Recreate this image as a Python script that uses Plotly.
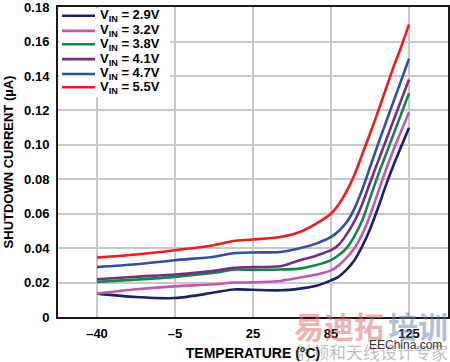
import plotly.graph_objects as go

# Temperature categories (equally spaced on the chart)
temp_labels = ["–40", "–5", "25", "85", "125"]
temp_pos = [0, 1, 2, 3, 4]

# sample positions along the category axis (fractional = between categories)
x_samples = [0, 0.5, 1, 1.5, 1.75, 2, 2.35, 2.6, 2.8, 3, 3.1, 3.2, 3.3, 3.4, 3.5, 3.6, 3.7, 3.8, 3.9, 4]

series_names = ["V<sub>IN</sub> = 2.9V", "V<sub>IN</sub> = 3.2V", "V<sub>IN</sub> = 3.8V",
                "V<sub>IN</sub> = 4.1V", "V<sub>IN</sub> = 4.7V", "V<sub>IN</sub> = 5.5V"]

vin_2_9 = [0.0136, 0.0116, 0.0110, 0.0142, 0.0160, 0.0158, 0.0155, 0.0165, 0.0180, 0.0213,
           0.0235, 0.0275, 0.0330, 0.0410, 0.0510, 0.0630, 0.0760, 0.0880, 0.0990, 0.110]
vin_3_2 = [0.0136, 0.0161, 0.0178, 0.0190, 0.0200, 0.0201, 0.0209, 0.0229, 0.0245, 0.0271,
           0.0300, 0.0345, 0.0400, 0.0480, 0.0590, 0.0720, 0.0850, 0.0970, 0.1080, 0.119]
vin_3_8 = [0.0204, 0.0217, 0.0233, 0.0257, 0.0275, 0.0274, 0.0276, 0.0281, 0.0300, 0.0330,
           0.0360, 0.0400, 0.0470, 0.0560, 0.0690, 0.0820, 0.0940, 0.1060, 0.1180, 0.130]
vin_4_1 = [0.0219, 0.0234, 0.0247, 0.0268, 0.0286, 0.0290, 0.0295, 0.0330, 0.0355, 0.0388,
           0.0420, 0.0480, 0.0555, 0.0655, 0.0780, 0.0900, 0.1020, 0.1140, 0.1260, 0.138]
vin_4_7 = [0.0290, 0.0306, 0.0330, 0.0350, 0.0370, 0.0375, 0.0378, 0.0400, 0.0425, 0.0465,
           0.0500, 0.0550, 0.0630, 0.0740, 0.0870, 0.1000, 0.1125, 0.1250, 0.1375, 0.150]
vin_5_5 = [0.0345, 0.0363, 0.0388, 0.0417, 0.0442, 0.0450, 0.0465, 0.0494, 0.0540, 0.0600,
           0.0655, 0.0730, 0.0825, 0.0945, 0.1065, 0.1190, 0.1320, 0.1450, 0.1570, 0.170]

series_values = [vin_2_9, vin_3_2, vin_3_8, vin_4_1, vin_4_7, vin_5_5]
colors = ["#1c1f6e", "#c656ad", "#0c8a44", "#772a8c", "#2f4ea6", "#f2191d"]

y_ticks = [0, 0.02, 0.04, 0.06, 0.08, 0.10, 0.12, 0.14, 0.16, 0.18]
y_ticktext = ["0", "0.02", "0.04", "0.06", "0.08", "0.10", "0.12", "0.14", "0.16", "0.18"]

font_family = "Liberation Sans, Arial, sans-serif"

fig = go.Figure()
for name, vals, col in zip(series_names, series_values, colors):
    fig.add_trace(go.Scatter(x=x_samples, y=vals, name=name, mode="lines",
                             line=dict(color=col, width=2.6, shape="spline", smoothing=0.8)))

fig.update_layout(
    width=450, height=362,
    margin=dict(l=58, r=2, t=7, b=45, autoexpand=False),
    paper_bgcolor="white", plot_bgcolor="white",
    font=dict(family=font_family, color="black", size=13, weight="bold"),
    showlegend=False,
    xaxis=dict(range=[-0.5, 4.5], tickvals=temp_pos, ticktext=temp_labels,
               showgrid=True, gridcolor="#c8c8c8", gridwidth=1.5,
               showline=True, linecolor="#1a1a1a", linewidth=2, mirror=True,
               ticks="", zeroline=False, automargin=False, ticklabelstandoff=3,
               ticklabeloverflow="allow",
               tickfont=dict(size=13, weight="bold"),
               title=dict(text="TEMPERATURE (°C)", font=dict(size=14, weight="bold"), standoff=9)),
    yaxis=dict(range=[0, 0.1801], tickvals=y_ticks, ticktext=y_ticktext,
               showgrid=True, gridcolor="#c8c8c8", gridwidth=1.5,
               showline=True, linecolor="#1a1a1a", linewidth=2, mirror=True,
               ticks="", zeroline=False, automargin=False, ticklabelstandoff=4,
               ticklabeloverflow="allow",
               tickfont=dict(size=13, weight="bold"),
               title=dict(text="SHUTDOWN CURRENT (µA)", font=dict(size=13, weight="bold"), standoff=8)),
)

# legend box (white panel over the grid) with line samples and labels
fig.add_shape(type="rect", xref="paper", yref="paper", x0=0.003, x1=0.287, y0=0.71, y1=0.995,
              fillcolor="white", line=dict(width=0), layer="above")
legend_rows = [0.972, 0.923, 0.880, 0.832, 0.784, 0.741]
for name, col, ry in zip(series_names, colors, legend_rows):
    fig.add_shape(type="line", xref="paper", yref="paper", x0=0.0103, x1=0.0949, y0=ry, y1=ry,
                  line=dict(color=col, width=2.6), layer="above")
    fig.add_annotation(text=name, xref="paper", yref="paper", x=0.1026, y=ry,
                       xanchor="left", yanchor="middle", showarrow=False,
                       font=dict(size=13, weight="bold", color="black"))

# watermark texts
fig.add_annotation(text="易迪拓", xref="paper", yref="paper", x=0.841, y=-0.026,
                   xanchor="right", yanchor="middle", showarrow=False,
                   font=dict(size=30, color="rgba(224,100,100,0.5)", family="Noto Sans CJK SC", weight="bold"))
fig.add_annotation(text="培训", xref="paper", yref="paper", x=0.841, y=-0.026,
                   xanchor="left", yanchor="middle", showarrow=False,
                   font=dict(size=30, color="rgba(100,130,175,0.5)", family="Noto Sans CJK SC", weight="bold"))
fig.add_annotation(text="射频和天线设计专家", xref="paper", yref="paper", x=1.005, y=-0.11,
                   xanchor="right", yanchor="middle", showarrow=False,
                   font=dict(size=17, color="rgba(110,110,110,0.45)", family="Noto Sans CJK SC", weight="normal"))
fig.add_annotation(text="EEChina.com", xref="paper", yref="paper", x=0.99, y=-0.091,
                   xanchor="right", yanchor="middle", showarrow=False,
                   font=dict(size=12, color="#333333", family="Liberation Sans", weight="normal"))

# remove the page's default body margin so the 450x362 figure fills the window exactly
fig.write_html("out.html", config={"displayModeBar": False},
               post_script="document.body.style.margin='0';")
